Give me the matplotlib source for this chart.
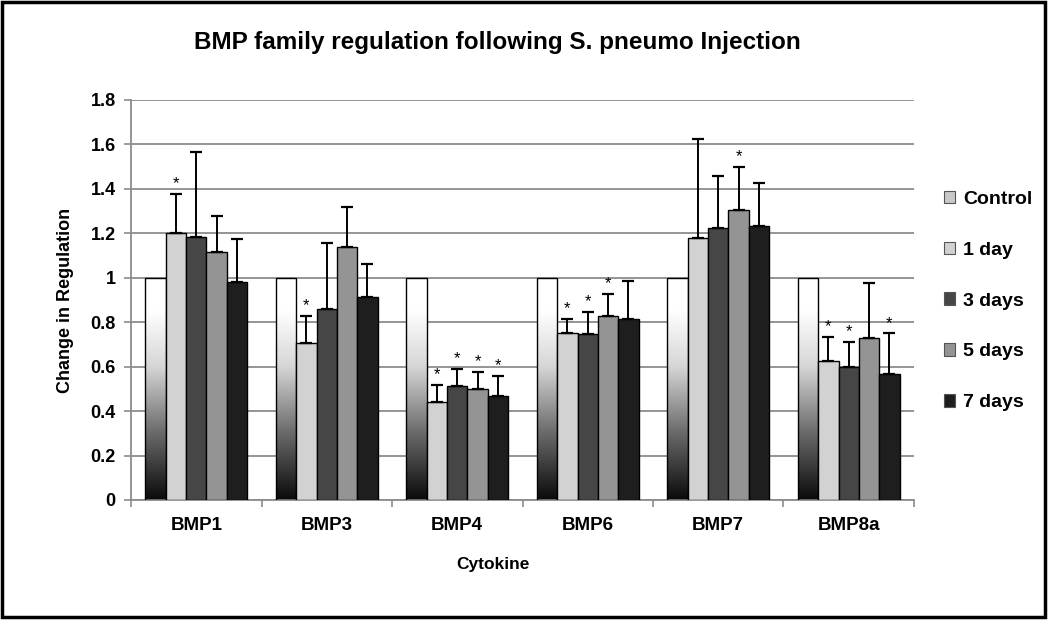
import numpy as np
import matplotlib.pyplot as plt
from matplotlib.colors import LinearSegmentedColormap
from matplotlib.patches import Patch, Rectangle

plt.rcParams['font.family'] = ['Liberation Sans', 'DejaVu Sans']
plt.rcParams['font.weight'] = 'bold'

cytokines = ['BMP1', 'BMP3', 'BMP4', 'BMP6', 'BMP7', 'BMP8a']
groups = ['Control', '1 day', '3 days', '5 days', '7 days']

# mean change in regulation per group (rows follow `groups`)
control = [1.0, 1.0, 1.0, 1.0, 1.0, 1.0]
day1 = [1.200, 0.705, 0.443, 0.752, 1.179, 0.627]
day3 = [1.185, 0.858, 0.513, 0.746, 1.226, 0.600]
day5 = [1.114, 1.137, 0.501, 0.827, 1.304, 0.728]
day7 = [0.981, 0.915, 0.467, 0.816, 1.232, 0.566]

# upper error bar sizes (no error drawn for control)
err1 = [0.177, 0.123, 0.076, 0.064, 0.444, 0.108]
err3 = [0.381, 0.297, 0.077, 0.100, 0.234, 0.111]
err5 = [0.164, 0.183, 0.075, 0.102, 0.196, 0.247]
err7 = [0.192, 0.147, 0.093, 0.170, 0.193, 0.184]

# significance stars
star1 = [True, True, True, True, False, True]
star3 = [False, False, True, True, False, True]
star5 = [False, False, True, True, True, False]
star7 = [False, False, True, False, False, True]

colors = ['white', '#d2d2d2', '#464646', '#949494', '#1e1e1e']

fig = plt.figure(figsize=(10.5, 6.22), dpi=100)
ax = fig.add_axes([131 / 1050, 1 - 500 / 622, (914 - 131) / 1050, 400 / 622])

x = np.arange(len(cytokines))
w = 0.156
series = [control, day1, day3, day5, day7]
errs = [None, err1, err3, err5, err7]
stars = [None, star1, star3, star5, star7]

grad_cmap = LinearSegmentedColormap.from_list(
    'ctrl', [(0, '#0a0a0a'), (0.3, '#6a6a6a'), (0.6, '#d6d6d6'), (0.85, '#ffffff'), (1, '#ffffff')])
grad = np.linspace(0, 1, 256).reshape(-1, 1)

for j, vals in enumerate(series):
    pos = x + (j - 2) * w
    if j == 0:
        bars = ax.bar(pos, vals, w, facecolor='none', edgecolor='black', linewidth=1.0, zorder=3)
        for b in bars:
            im = ax.imshow(grad, cmap=grad_cmap, origin='lower', aspect='auto',
                           extent=[b.get_x(), b.get_x() + b.get_width(), 0, b.get_height()], zorder=2)
            im.set_clip_path(b)
    else:
        ax.bar(pos, vals, w, color=colors[j], edgecolor='black', linewidth=1.0, zorder=3)
        ax.errorbar(pos, vals, yerr=[np.zeros(len(vals)), errs[j]], fmt='none',
                    ecolor='black', elinewidth=1.4, capsize=4.5, capthick=1.6, zorder=4)
        for k in range(len(vals)):
            if stars[j][k]:
                ax.text(pos[k], vals[k] + errs[j][k] + 0.012, '*', ha='center', va='bottom',
                        fontsize=12, fontweight='normal', zorder=5)

ax.set_xlim(-0.5, 5.5)
ax.set_ylim(0, 1.8)
ax.set_yticks(np.arange(0, 1.81, 0.2))
ax.set_yticklabels(['0', '0.2', '0.4', '0.6', '0.8', '1', '1.2', '1.4', '1.6', '1.8'])
ax.yaxis.grid(True, color='#8c8c8c', linewidth=1.3, zorder=0)
ax.set_axisbelow(True)
ax.set_xticks(x)
ax.set_xticklabels(cytokines)
ax.set_xticks(np.arange(-0.5, 6, 1), minor=True)
ax.tick_params(axis='x', which='major', length=0, pad=12, labelsize=13.5)
ax.tick_params(axis='x', which='minor', length=5, color='#8c8c8c', width=1.2)
ax.tick_params(axis='y', length=5, color='#8c8c8c', width=1.2, pad=6, labelsize=13)
for s in ['top', 'right']:
    ax.spines[s].set_visible(False)
for s in ['left', 'bottom']:
    ax.spines[s].set_color('#8c8c8c')
    ax.spines[s].set_linewidth(1.3)

ax.set_ylabel('Change in Regulation', fontsize=13, fontweight='bold', labelpad=12)
fig.text(493 / 1050, 1 - 565 / 622, 'Cytokine', ha='center', va='center', fontsize=12.5)
fig.text(497 / 1050, 1 - 43 / 622, 'BMP family regulation following S. pneumo Injection',
         ha='center', va='center', fontsize=17.5)

handles = [Patch(facecolor='#c8c8c8' if c == 'white' else c, edgecolor='#555555', linewidth=0.8)
           for c in colors]
ax.legend(handles, groups, loc='center left', bbox_to_anchor=(926 / 1050, 1 - 301 / 622),
          bbox_transform=fig.transFigure, frameon=False, fontsize=14,
          handlelength=0.6, handleheight=0.6, handletextpad=0.4, labelspacing=1.74)

fig.patches.append(Rectangle((1.5 / 1050, 5 / 622), 1043 / 1050, 615 / 622,
                             transform=fig.transFigure, fill=False, edgecolor='black', linewidth=2.5))

fig.savefig('out.png', dpi=100)
